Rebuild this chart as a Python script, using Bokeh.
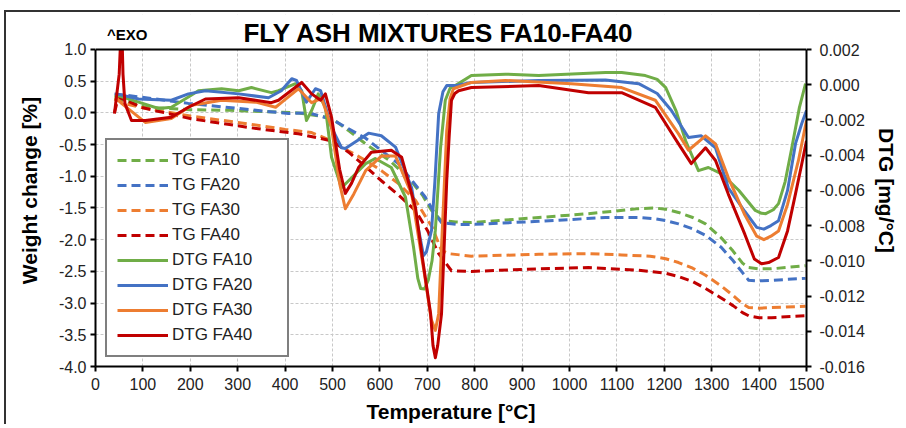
from bokeh.plotting import figure
from bokeh.models import (Range1d, LinearAxis, FixedTicker, PrintfTickFormatter,
                          Legend, LegendItem, Label, Span, BoxAnnotation)
from bokeh.embed import file_html
from bokeh.resources import INLINE

# ---------------- data ----------------
# TG curves: weight change [%] (left axis)
tg10_t = [40, 70, 105, 200, 287, 428, 498, 534, 570, 620, 660, 690, 709, 730, 760, 793, 935, 1040, 1146, 1180, 1203, 1230, 1260, 1287, 1320, 1345, 1365, 1378, 1400, 1426, 1498]
tg10_w = [0.22, 0.18, 0.09, 0.05, 0.04, 0.0, -0.08, -0.28, -0.49, -0.75, -1.02, -1.30, -1.54, -1.70, -1.72, -1.73, -1.65, -1.59, -1.51, -1.50, -1.52, -1.57, -1.65, -1.75, -1.97, -2.18, -2.37, -2.44, -2.46, -2.46, -2.41]

tg20_t = [40, 126, 196, 302, 407, 450, 498, 534, 570, 639, 696, 715, 730, 766, 793, 935, 1076, 1146, 1180, 1203, 1230, 1260, 1287, 1320, 1345, 1365, 1378, 1400, 1426, 1498]
tg20_w = [0.30, 0.22, 0.15, 0.07, -0.01, 0.0, -0.10, -0.25, -0.40, -0.80, -1.33, -1.58, -1.73, -1.76, -1.76, -1.71, -1.65, -1.65, -1.67, -1.70, -1.75, -1.83, -1.93, -2.12, -2.33, -2.52, -2.64, -2.65, -2.64, -2.61]

tg30_t = [40, 60, 100, 200, 300, 400, 456, 498, 534, 570, 603, 640, 675, 710, 730, 745, 793, 935, 1040, 1110, 1170, 1203, 1230, 1260, 1287, 1320, 1345, 1365, 1378, 1400, 1426, 1498]
tg30_w = [0.22, 0.15, 0.08, -0.05, -0.15, -0.26, -0.31, -0.44, -0.60, -0.75, -0.91, -1.12, -1.38, -1.80, -2.17, -2.22, -2.26, -2.23, -2.22, -2.24, -2.26, -2.30, -2.36, -2.45, -2.56, -2.73, -2.88, -3.01, -3.07, -3.08, -3.07, -3.05]

tg40_t = [40, 48, 100, 200, 323, 428, 498, 534, 570, 603, 640, 675, 700, 724, 751, 793, 935, 1040, 1146, 1203, 1230, 1260, 1287, 1320, 1345, 1365, 1378, 1400, 1426, 1498]
tg40_w = [0.0, 0.25, 0.08, -0.09, -0.23, -0.33, -0.44, -0.62, -0.85, -1.07, -1.30, -1.54, -1.85, -2.22, -2.49, -2.50, -2.46, -2.44, -2.48, -2.53, -2.58, -2.66, -2.77, -2.92, -3.04, -3.15, -3.20, -3.23, -3.23, -3.20]

# DTG curves: mg/°C (right axis)
dtg10_t = [40, 49, 91, 133, 160, 196, 217, 266, 302, 329, 371, 386, 422, 435, 445, 456, 470, 485, 498, 519, 534, 570, 590, 624, 654, 671, 680, 686, 694, 702, 710, 717, 728, 738, 748, 759, 793, 865, 935, 1076, 1110, 1160, 1185, 1203, 1225, 1245, 1272, 1293, 1321, 1357, 1392, 1405, 1414, 1430, 1441, 1455, 1468, 1485, 1498]
dtg10_d = [-0.00070, -0.00063, -0.00099, -0.00135, -0.00128, -0.00070, -0.00034, -0.00023, -0.00034, -0.00016, -0.00045, -0.00034, 0.00006, -0.00034, -0.00203, -0.00146, -0.00052, -0.00128, -0.00412, -0.00585, -0.00545, -0.00448, -0.00419, -0.00470, -0.00639, -0.00923, -0.01100, -0.01157, -0.01160, -0.01110, -0.01000, -0.00826, -0.00358, -0.00088, -0.00020, -0.00005, 0.00052, 0.00060, 0.00052, 0.00070, 0.00070, 0.00052, 0.00030, -0.00016, -0.00150, -0.00318, -0.00488, -0.00470, -0.00506, -0.00599, -0.00714, -0.00730, -0.00732, -0.00710, -0.00675, -0.00550, -0.00372, -0.00130, 0.00006]

dtg20_t = [44, 91, 160, 196, 232, 302, 365, 392, 414, 424, 445, 464, 475, 498, 519, 527, 576, 603, 633, 667, 680, 692, 698, 709, 716, 724, 733, 741, 759, 793, 935, 1076, 1146, 1185, 1215, 1251, 1278, 1308, 1335, 1370, 1395, 1410, 1425, 1441, 1460, 1477, 1490, 1500]
dtg20_d = [-0.00052, -0.00081, -0.00088, -0.00052, -0.00034, -0.00052, -0.00074, -0.00034, 0.00034, 0.00024, -0.00099, -0.00023, -0.00034, -0.00243, -0.00358, -0.00362, -0.00275, -0.00290, -0.00354, -0.00585, -0.00800, -0.00970, -0.00950, -0.00826, -0.00550, -0.00164, -0.00040, -0.00005, -0.00005, 0.00013, 0.00024, 0.00027, 0.00006, -0.00050, -0.00146, -0.00300, -0.00290, -0.00358, -0.00585, -0.00720, -0.00810, -0.00820, -0.00800, -0.00772, -0.00600, -0.00333, -0.00220, -0.00146]

dtg30_t = [42, 55, 105, 160, 203, 266, 338, 380, 392, 428, 456, 477, 498, 515, 527, 545, 570, 603, 633, 667, 696, 708, 717, 724, 730, 741, 748, 755, 793, 865, 1004, 1110, 1181, 1230, 1251, 1287, 1308, 1335, 1370, 1395, 1410, 1425, 1441, 1460, 1483, 1500]
dtg30_d = [-0.00070, -0.00106, -0.00214, -0.00192, -0.00117, -0.00088, -0.00099, -0.00128, -0.00102, -0.00023, -0.00102, -0.00077, -0.00243, -0.00560, -0.00704, -0.00620, -0.00488, -0.00405, -0.00405, -0.00621, -0.01110, -0.01330, -0.01395, -0.01300, -0.00923, -0.00261, -0.00080, -0.00023, 0.00013, 0.00024, 0.00006, -0.00016, -0.00088, -0.00279, -0.00372, -0.00290, -0.00336, -0.00527, -0.00740, -0.00860, -0.00880, -0.00860, -0.00830, -0.00680, -0.00430, -0.00203]

dtg40_t = [40, 50, 55, 58, 62, 76, 105, 160, 196, 232, 302, 371, 386, 435, 456, 475, 485, 498, 515, 527, 540, 555, 582, 624, 646, 675, 690, 707, 712, 717, 722, 730, 741, 746, 751, 758, 766, 793, 935, 1040, 1110, 1181, 1230, 1257, 1287, 1308, 1335, 1370, 1390, 1405, 1420, 1441, 1460, 1477, 1490, 1500]
dtg40_d = [-0.00164, 0.00060, 0.00380, 0.00060, -0.00106, -0.00203, -0.00203, -0.00185, -0.00128, -0.00081, -0.00074, -0.00102, -0.00088, 0.00013, -0.00052, -0.00088, -0.00052, -0.00185, -0.00480, -0.00617, -0.00560, -0.00470, -0.00383, -0.00372, -0.00412, -0.00696, -0.00990, -0.01301, -0.01480, -0.01550, -0.01480, -0.01301, -0.00545, -0.00300, -0.00088, -0.00050, -0.00034, -0.00016, -0.00005, -0.00045, -0.00045, -0.00128, -0.00336, -0.00448, -0.00358, -0.00430, -0.00621, -0.00850, -0.00990, -0.01017, -0.01010, -0.00981, -0.00830, -0.00617, -0.00450, -0.00318]

labels = ["TG FA10", "TG FA20", "TG FA30", "TG FA40", "DTG FA10", "DTG FA20", "DTG FA30", "DTG FA40"]
colors = ["#70AD47", "#4472C4", "#ED7D31", "#C00000"]

x_ticks = list(range(0, 1501, 100))
left_ticks = [-4.0, -3.5, -3.0, -2.5, -2.0, -1.5, -1.0, -0.5, 0.0, 0.5, 1.0]
right_ticks = [-0.016, -0.014, -0.012, -0.010, -0.008, -0.006, -0.004, -0.002, 0.000, 0.002]

chart_title = "FLY ASH MIXTURES FA10-FA40"
exo_note = "^EXO"

FONT = "Liberation Sans"

# The frame extends above the plotted area so that the title texts live inside it;
# the axes are bounded to the real value ranges.
W_MIN, W_MAX, W_TOP = -4.0, 1.0, 1.552
D_MIN, D_MAX, D_TOP = -0.016, 0.002, 0.0039875

# ---------------- figure ----------------
p = figure(width=896, height=414, output_backend="svg", toolbar_location=None,
           x_range=Range1d(0, 1500), y_range=Range1d(W_MIN, W_TOP),
           min_border_left=89, min_border_right=96, min_border_top=2, min_border_bottom=60)
p.styles = {"border-top": "2px solid #333333", "border-left": "2px solid #333333",
            "margin-top": "10px", "margin-left": "4px"}
p.extra_y_ranges = {"dtg": Range1d(D_MIN, D_TOP)}
p.outline_line_color = None
p.background_fill_color = "white"
p.border_fill_color = "white"

# grid
for g in (p.xgrid, p.ygrid):
    g.grid_line_color = "#c8c8c8"
    g.grid_line_dash = "3 2"
    g.grid_line_width = 1
p.xgrid.ticker = FixedTicker(ticks=x_ticks)
p.ygrid.ticker = FixedTicker(ticks=left_ticks)

def style_axis(ax):
    ax.axis_line_color = "black"
    ax.axis_line_width = 2
    ax.major_tick_line_color = "black"
    ax.major_tick_line_width = 2
    ax.major_tick_out = 5
    ax.major_tick_in = 0
    ax.minor_tick_line_color = None
    ax.major_label_text_font = FONT
    ax.major_label_text_font_size = "16px"
    ax.major_label_text_color = "#222222"
    ax.axis_label_text_font = FONT
    ax.axis_label_text_font_size = "21px"
    ax.axis_label_text_font_style = "bold"
    ax.axis_label_text_color = "black"

xa = p.xaxis[0]
style_axis(xa)
xa.ticker = FixedTicker(ticks=x_ticks)
xa.formatter = PrintfTickFormatter(format="%d")
xa.axis_label = "Temperature [°C]"
xa.major_label_standoff = 6
xa.axis_label_standoff = 7

ya = p.yaxis[0]
style_axis(ya)
ya.ticker = FixedTicker(ticks=left_ticks)
ya.formatter = PrintfTickFormatter(format="%.1f")
ya.axis_label = "Weight change [%]"
ya.major_label_standoff = 4
ya.axis_label_standoff = 15
ya.bounds = (W_MIN, W_MAX)

ra = LinearAxis(y_range_name="dtg")
style_axis(ra)
ra.ticker = FixedTicker(ticks=right_ticks)
ra.formatter = PrintfTickFormatter(format="%.3f")
ra.axis_label = "DTG [mg/°C]"
ra.major_label_standoff = 8
ra.axis_label_standoff = 7
ra.bounds = (D_MIN, D_MAX)
p.add_layout(ra, "right")

# ---------------- curves ----------------
tg = [(tg10_t, tg10_w), (tg20_t, tg20_w), (tg30_t, tg30_w), (tg40_t, tg40_w)]
dtg = [(dtg10_t, dtg10_d), (dtg20_t, dtg20_d), (dtg30_t, dtg30_d), (dtg40_t, dtg40_d)]

renderers = []
for (t, w), c in zip(tg, colors):
    r = p.line(t, w, line_color=c, line_width=3, line_dash="9 5", line_join="round")
    renderers.append(r)
for (t, d), c in zip(dtg, colors):
    r = p.line(t, d, line_color=c, line_width=3, y_range_name="dtg", line_join="round")
    renderers.append(r)

# mask of the area above the plot (hides grid lines / clipped spike) and top frame line
p.add_layout(BoxAnnotation(bottom=W_MAX, fill_color="white", fill_alpha=1.0,
                           line_color=None, level="annotation"))
p.add_layout(Span(location=W_MAX, dimension="width", line_color="black", line_width=2))

legend = Legend(items=[LegendItem(label=l, renderers=[r]) for l, r in zip(labels, renderers)],
                location=(10, 9), orientation="vertical")
legend.border_line_color = "black"
legend.border_line_width = 2
legend.background_fill_color = "white"
legend.background_fill_alpha = 1.0
legend.label_text_font = FONT
legend.label_text_font_size = "17px"
legend.label_text_color = "#222222"
legend.glyph_width = 51
legend.glyph_height = 18
legend.label_height = 18
legend.label_width = 105
legend.spacing = 5
legend.padding = 10
legend.margin = 0
legend.label_standoff = 4
p.add_layout(legend)

# ---------------- texts ----------------
p.add_layout(Label(x=724, y=1.268, text=chart_title, text_align="center",
                   text_baseline="middle", text_font=FONT, text_font_size="26px",
                   text_font_style="bold", text_color="black"))
p.add_layout(Label(x=67, y=1.237, text=exo_note, text_align="center",
                   text_baseline="middle", text_font=FONT, text_font_size="15px",
                   text_font_style="bold", text_color="black"))

open("out.html", "w").write(file_html(p, INLINE))
